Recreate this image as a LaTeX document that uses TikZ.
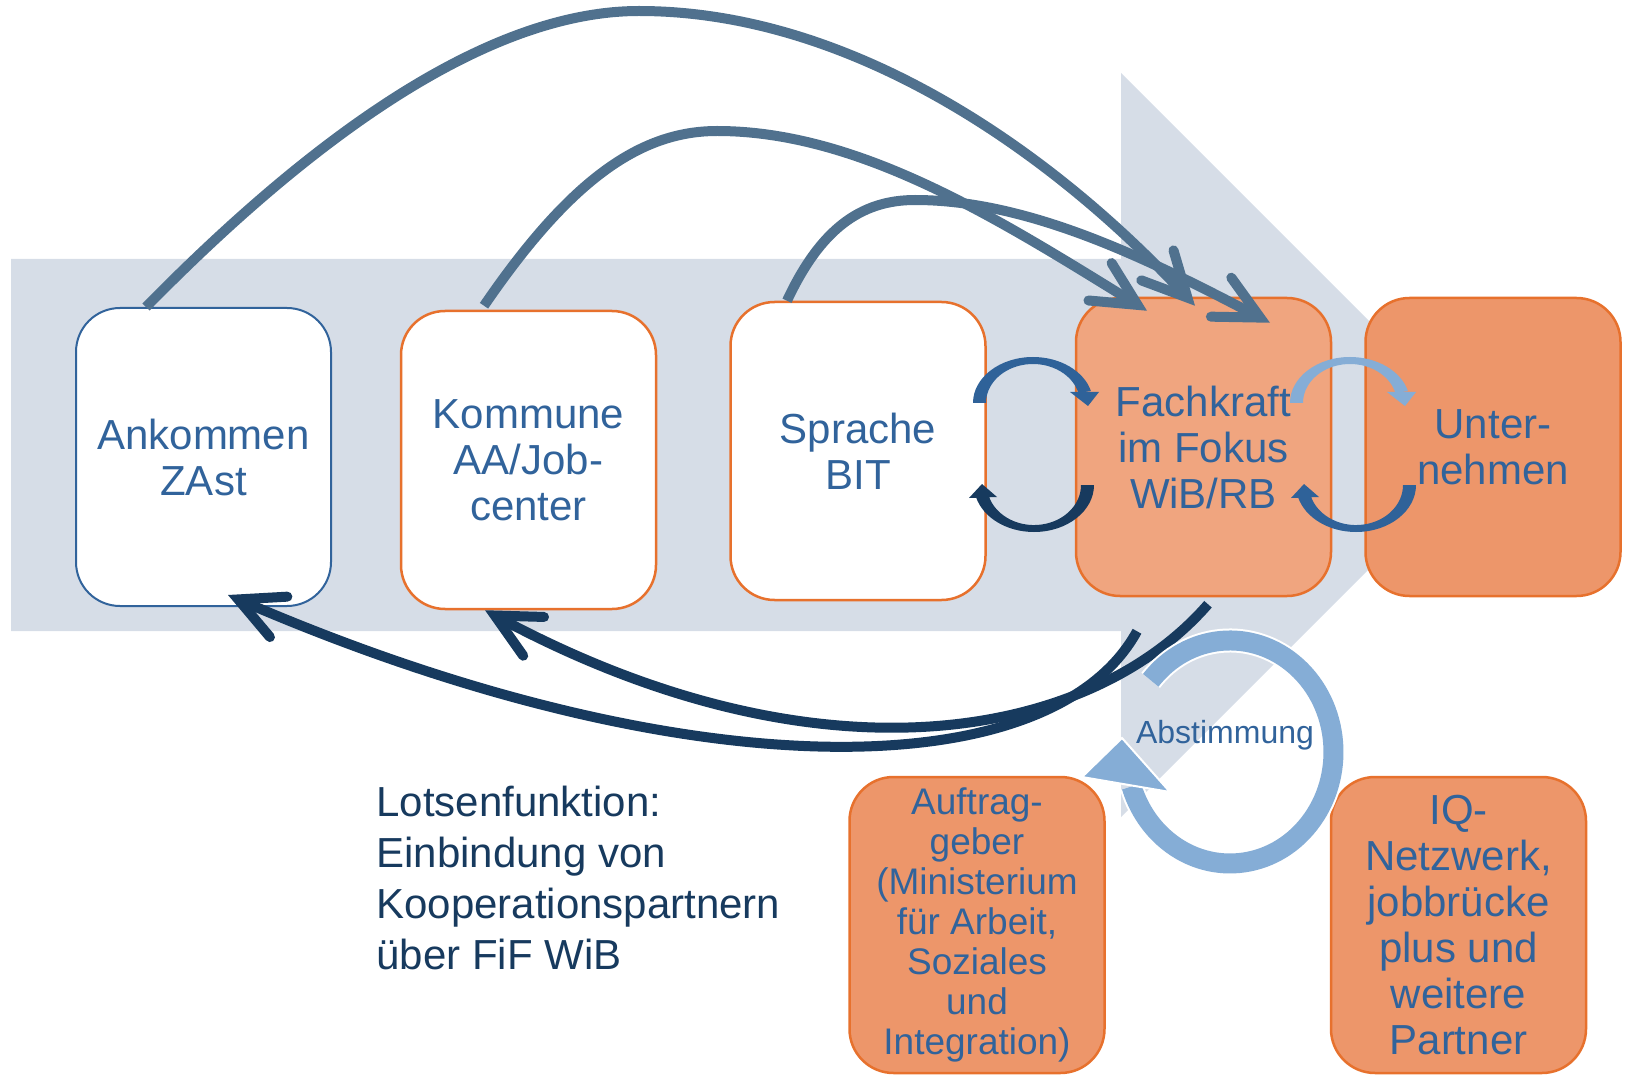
\documentclass[tikz,border=0pt]{standalone}
\usepackage{fontspec}
\setmainfont{Liberation Sans}
\usepackage{tikz}
\usetikzlibrary{arrows.meta}

\definecolor{band}{RGB}{214,221,231}
\definecolor{txtblue}{RGB}{49,99,155}
\definecolor{orng}{RGB}{231,113,45}
\definecolor{salmonA}{RGB}{240,165,127}
\definecolor{salmonB}{RGB}{237,150,106}
\definecolor{steel}{RGB}{80,113,142}
\definecolor{navy}{RGB}{23,58,94}
\definecolor{medblue}{RGB}{47,98,153}
\definecolor{lightblue}{RGB}{133,173,214}

\begin{document}
\begin{tikzpicture}[x=0.5pt,y=-0.5pt,
  box/.style={rectangle, rounded corners=22pt, minimum width=127.5pt, minimum height=149pt,
    inner sep=0pt, align=center, text=txtblue, font=\fontsize{21}{23}\selectfont},
  plain/.style={box, draw=orng, line width=1.25pt, fill=white},
  warm/.style={box, draw=orng, line width=1.25pt, fill=salmonB},
  flow/.style={line width=5pt, -{Straight Barb[length=22pt,width=22pt,line cap=round]}}]

\useasboundingbox (0,0) rectangle (1629,1075);

%background arrow
\fill[band] (11,259) -- (1121,259) -- (1121,73) -- (1493,445) -- (1121,817)
  -- (1121,631) -- (11,631) -- cycle;

%boxes
\node[box, draw=txtblue, line width=1pt, fill=white] (ankommen) at (203.5,457) {Ankommen\\ZAst};
\node[plain] (kommune) at (528.5,460) {Kommune\\AA/Job-\\center};
\node[plain] (sprache) at (858,451) {Sprache\\BIT};
\node[warm, fill=salmonA] (fachkraft) at (1203.5,447) {Fachkraft\\im Fokus\\WiB/RB};
\node[warm] (unternehmen) at (1493,447) {Unter-\\nehmen};
\node[warm, minimum height=148pt, font=\fontsize{18.5}{20}\selectfont] (auftraggeber) at (977,925)
  {Auftrag-\\geber\\(Ministerium\\für Arbeit,\\Soziales\\und\\Integration)};
\node[warm, minimum height=148pt] (iqnetz) at (1458.5,925)
  {IQ-\\Netzwerk,\\jobbrücke\\plus und\\weitere\\Partner};

\node[anchor=north west, align=left, inner sep=0pt, text=navy, font=\fontsize{21}{25.5}\selectfont]
  (lotsen) at (376,786) {Lotsenfunktion:\\Einbindung von\\Kooperationspartnern\\über FiF WiB};

%arrows to Fachkraft
\draw[flow, steel] ([xshift=-28.75pt]ankommen.north) .. controls (300,150) and (480,11) .. (639,11)
  .. controls (850,11) and (1050,150) .. ([xshift=-4.25pt,yshift=-4.5pt]fachkraft.north);
\draw[flow, steel] ([xshift=-22.25pt,yshift=2pt]kommune.north) .. controls (570,180) and (640,131) .. (717,131)
  .. controls (860,131) and (1000,220) .. ([xshift=-28.25pt,yshift=-7pt]fachkraft.north);
\draw[flow, steel] ([xshift=-35.5pt]sprache.north) .. controls (820,230) and (860,200) .. (915,200)
  .. controls (1030,200) and (1150,260) .. ([xshift=33.25pt,yshift=-13pt]fachkraft.north);

%arrows back
\draw[flow, navy] ([xshift=2.25pt,yshift=-3.5pt]fachkraft.south) .. controls (1090,740) and (820,790)
  .. ([xshift=-21.75pt]kommune.south);
\draw[flow, navy] ([xshift=-33.25pt,yshift=-17pt]fachkraft.south) .. controls (1050,790) and (680,790)
  .. ([xshift=12.25pt,yshift=6pt]ankommen.south);

%swap arrows
\foreach \cx/\col in {1033/medblue,1350/lightblue}{
  \fill[\col] (\cx-60,403) arc[start angle=180,end angle=345,x radius=60,y radius=46]
    -- (\cx+45.4,392.9) arc[start angle=345,end angle=180,x radius=47,y radius=39] -- cycle;
  \fill[\col] (\cx+37,392) -- (\cx+66,392) -- (\cx+55,406) -- cycle;
}
\foreach \cx/\col in {1034/navy,1356/medblue}{
  \fill[\col] (\cx+60,485) arc[start angle=0,end angle=165,x radius=60,y radius=47]
    -- (\cx-45.4,495.4) arc[start angle=165,end angle=0,x radius=47,y radius=40] -- cycle;
  \fill[\col] (\cx-65,498) -- (\cx-37,497) -- (\cx-52,484) -- cycle;
}

%Abstimmung ring
\draw[white, line width=12pt] (1150.7,680.3) arc[start angle=-140,end angle=162,x radius=103.5,y radius=111.5];
\draw[lightblue, line width=10pt] (1150.7,680.3) arc[start angle=-140,end angle=162,x radius=103.5,y radius=111.5];
\filldraw[lightblue, draw=white, line width=1pt] (1082,777) -- (1122,738) -- (1170,792) -- cycle;
\node[anchor=base, inner sep=0pt, text=txtblue, font=\fontsize{16}{18}\selectfont] (abstimmung) at (1225,743) {Abstimmung};

\end{tikzpicture}
\end{document}
